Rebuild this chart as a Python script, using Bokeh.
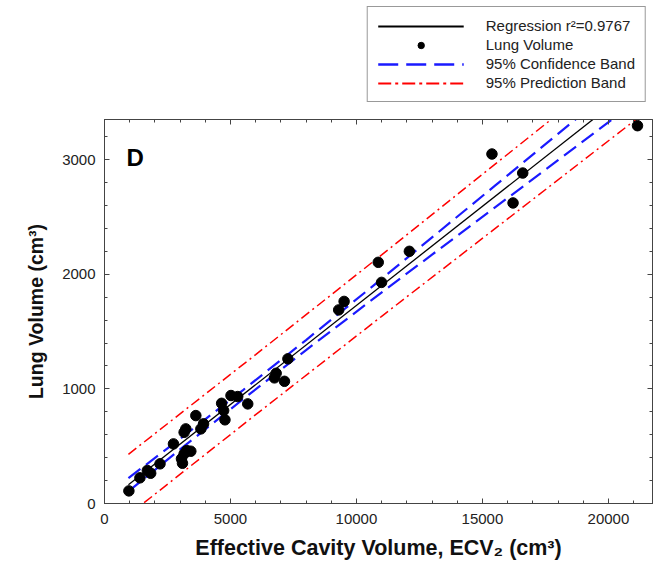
from bokeh.plotting import figure
from bokeh.layouts import column
from bokeh.models import (Range1d, LinearAxis, SingleIntervalTicker, Legend,
                          LegendItem, Label, CustomJSTickFormatter)
from bokeh.embed import file_html
from bokeh.resources import INLINE

# ---- data ----
ecv = [968, 1406, 1700, 1833, 2203, 2737, 3055, 3095, 3160, 3267, 3426,
       3160, 3227, 3625, 3825, 3932, 4649, 4729, 4781, 5020, 5287, 5685,
       6745, 6813, 7143, 7279, 9295, 9510, 10865, 10996, 12100, 15378,
       16215, 16600, 21155]
lung = [110, 224, 288, 264, 346, 520, 390, 351, 433, 462, 456,
        621, 651, 767, 651, 695, 874, 811, 730, 942, 933, 869,
        1096, 1136, 1066, 1262, 1689, 1763, 2104, 1929, 2200, 3049,
        2622, 2883, 3296]

fit_x = [950, 21155]
fit_y = [164, 3656]

conf_x = [950, 3000, 5500, 8000, 10500, 13000, 15500, 18000, 21155]
conf_upper = [222, 564, 990, 1426, 1870, 2321, 2773, 3225, 3796]
conf_lower = [106, 472, 910, 1338, 1758, 2171, 2583, 2995, 3516]

pred_x = [950, 6000, 11000, 16000, 21155]
pred_upper = [429, 1299, 2169, 3047, 3951]
pred_lower = [-101, 775, 1633, 2483, 3361]

legend_labels = ["Regression r\u00b2=0.9767", "Lung Volume",
                 "95% Confidence Band", "95% Prediction Band"]

FONT = "Liberation Sans"
AX = "#444444"
RED = dict(line_color="#ff0000", line_width=1.5, line_dash="10 4 2 4")
BLUE = dict(line_color="#1a1aff", line_width=2.2, line_dash="15 7")
BLACK = dict(line_color="black", line_width=1.3)

W = 656

# ---------------- main plot ----------------
p = figure(width=W, height=455, output_backend="svg", toolbar_location=None,
           x_range=Range1d(0, 21750), y_range=Range1d(0, 3350),
           min_border_left=104, min_border_right=4, min_border_top=8,
           min_border_bottom=63)
p.xgrid.visible = False
p.ygrid.visible = False
p.outline_line_color = AX

xax = p.below[0]
yax = p.left[0]
xax.ticker = SingleIntervalTicker(interval=5000, num_minor_ticks=5)
yax.ticker = SingleIntervalTicker(interval=1000, num_minor_ticks=5)

blank = CustomJSTickFormatter(code="return ''")
top = LinearAxis(ticker=SingleIntervalTicker(interval=5000, num_minor_ticks=5),
                 formatter=blank, major_label_standoff=0)
right = LinearAxis(ticker=SingleIntervalTicker(interval=1000, num_minor_ticks=5),
                   formatter=blank, major_label_standoff=0)
p.add_layout(top, "above")
p.add_layout(right, "right")

for ax in [xax, yax, top, right]:
    ax.axis_line_color = AX
    ax.major_tick_line_color = AX
    ax.minor_tick_line_color = AX
    ax.major_tick_in = 5
    ax.major_tick_out = 0
    ax.minor_tick_in = 3
    ax.minor_tick_out = 0

for ax in [xax, yax]:
    ax.major_label_text_font = FONT
    ax.major_label_text_color = "#222222"
    ax.major_label_text_font_size = "15px"
    ax.axis_label_text_font = FONT
    ax.axis_label_text_font_style = "bold"
    ax.axis_label_text_color = "#111111"

xax.axis_label_text_font_size = "21.5px"
yax.axis_label_text_font_size = "19.5px"
xax.major_label_standoff = 10
yax.major_label_standoff = 9
xax.axis_label = "Effective Cavity Volume, ECV\u2082 (cm\u00b3)"
yax.axis_label = "Lung Volume (cm\u00b3)"
xax.axis_label_standoff = 9
yax.axis_label_standoff = 12

p.line(pred_x, pred_upper, **RED)
p.line(pred_x, pred_lower, **RED)
p.line(conf_x, conf_upper, **BLUE)
p.line(conf_x, conf_lower, **BLUE)
p.line(fit_x, fit_y, **BLACK)
p.scatter(ecv, lung, size=10.5, color="black")

p.add_layout(Label(x=876, y=3017, text="D", text_font=FONT,
                   text_font_style="bold", text_font_size="24px",
                   text_color="black", text_baseline="alphabetic"))

# ---------------- legend strip above the plot ----------------
# Same series re-drawn with a view range that shows none of them, so the
# legend has real glyph renderers to sample its swatches from.
lf = figure(width=W, height=111, output_backend="svg", toolbar_location=None,
            x_range=Range1d(-2, -1), y_range=Range1d(-2, -1),
            x_axis_location=None, y_axis_location=None,
            min_border_left=0, min_border_right=2, min_border_top=0,
            min_border_bottom=0)
lf.outline_line_color = None
lf.xgrid.visible = False
lf.ygrid.visible = False
r_reg = lf.line(fit_x, fit_y, line_color="black", line_width=2)
r_pts = lf.scatter(ecv, lung, size=11, color="black")
r_conf = lf.line(conf_x, conf_upper, line_color="#1a1aff", line_width=2.5,
                 line_dash="20 8")
r_pred = lf.line(pred_x, pred_upper, line_color="#ff0000", line_width=2,
                 line_dash="13 4 3 4")

legend = Legend(items=[
    LegendItem(label=legend_labels[0], renderers=[r_reg]),
    LegendItem(label=legend_labels[1], renderers=[r_pts]),
    LegendItem(label=legend_labels[2], renderers=[r_conf]),
    LegendItem(label=legend_labels[3], renderers=[r_pred]),
], location="top_right")
legend.border_line_color = "#333333"
legend.border_line_width = 1
legend.padding = 10
legend.spacing = 2
legend.margin = 6
legend.glyph_width = 86
legend.glyph_height = 16
legend.label_height = 16
legend.label_standoff = 22
legend.label_text_font = FONT
legend.label_text_font_size = "15px"
legend.label_text_color = "#222222"
lf.add_layout(legend, "center")

layout = column(lf, p, spacing=0)
open("out.html", "w").write(file_html(layout, INLINE))
